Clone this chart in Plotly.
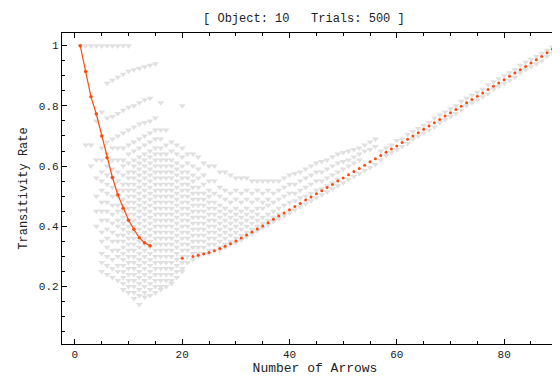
import plotly.graph_objects as go

title_text = "[ Object: 10   Trials: 500 ]"
x_title = "Number of Arrows"
y_title = "Transitivity Rate"

# Orange series (left branch and right branch)
orange_left_x = list(range(1, 15))
orange_left_y = [1.0, 0.914, 0.83, 0.773, 0.70, 0.628, 0.562, 0.505, 0.46, 0.42,
                 0.39, 0.362, 0.345, 0.335]
orange_right_x = [20] + list(range(22, 91))
orange_right_y = [0.294,
                  0.300, 0.304, 0.308, 0.313, 0.319, 0.326, 0.334, 0.342, 0.351, 0.361,
                  0.371, 0.381, 0.391, 0.401, 0.412, 0.423, 0.434, 0.444, 0.455, 0.466,
                  0.476, 0.487, 0.497, 0.508, 0.518, 0.529, 0.539, 0.550, 0.560, 0.571,
                  0.582, 0.592, 0.603, 0.614, 0.624, 0.635, 0.646, 0.657, 0.667, 0.678,
                  0.689, 0.700, 0.711, 0.722, 0.733, 0.744, 0.755, 0.766, 0.777, 0.788,
                  0.799, 0.810, 0.821, 0.832, 0.843, 0.854, 0.865, 0.876, 0.887, 0.898,
                  0.909, 0.920, 0.931, 0.942, 0.953, 0.964, 0.976, 0.988, 1.000]

# Gray trial cloud: one list of observed rates per arrow count
gray_cols = list(range(1, 57))
gray_vals = [
    [1.0],
    [1.0, 0.67],
    [1.0, 0.67, 0.60],
    [1.0, 0.75, 0.62, 0.56, 0.50, 0.45, 0.40],
    [1.0, 0.78, 0.66, 0.62, 0.58, 0.55, 0.52, 0.48, 0.45, 0.42, 0.38, 0.35, 0.31, 0.28, 0.25],
    [1.0, 0.875, 0.76, 0.68, 0.64, 0.60, 0.57, 0.54, 0.51, 0.48, 0.45, 0.42, 0.39, 0.36, 0.33, 0.30, 0.27, 0.24],
    [1.0, 0.885, 0.765, 0.69, 0.66, 0.62, 0.59, 0.56, 0.53, 0.50, 0.47, 0.44, 0.41, 0.38, 0.35, 0.32, 0.29, 0.26, 0.23],
    [1.0, 0.895, 0.775, 0.70, 0.66, 0.62, 0.58, 0.55, 0.52, 0.50, 0.47, 0.45, 0.42, 0.40, 0.37, 0.35, 0.32, 0.30, 0.27, 0.25, 0.22],
    [1.0, 0.905, 0.785, 0.71, 0.66, 0.62, 0.60, 0.57, 0.54, 0.52, 0.49, 0.47, 0.45, 0.43, 0.41, 0.39, 0.37, 0.35, 0.33, 0.31, 0.29, 0.27, 0.25, 0.23, 0.21, 0.19],
    [1.0, 0.915, 0.795, 0.72, 0.67, 0.64, 0.61, 0.58, 0.56, 0.54, 0.52, 0.50, 0.48, 0.46, 0.44, 0.42, 0.40, 0.38, 0.36, 0.34, 0.32, 0.30, 0.28, 0.26, 0.24, 0.22, 0.20, 0.18],
    [0.92, 0.80, 0.73, 0.68, 0.65, 0.62, 0.60, 0.58, 0.56, 0.54, 0.52, 0.50, 0.48, 0.46, 0.44, 0.42, 0.40, 0.38, 0.36, 0.34, 0.32, 0.30, 0.28, 0.26, 0.24, 0.22, 0.20, 0.18, 0.16],
    [0.925, 0.81, 0.74, 0.69, 0.66, 0.63, 0.61, 0.59, 0.57, 0.55, 0.53, 0.51, 0.49, 0.47, 0.45, 0.43, 0.41, 0.39, 0.37, 0.35, 0.33, 0.31, 0.29, 0.27, 0.25, 0.23, 0.21, 0.19, 0.17, 0.14],
    [0.93, 0.82, 0.745, 0.70, 0.67, 0.64, 0.62, 0.60, 0.58, 0.56, 0.54, 0.52, 0.50, 0.48, 0.46, 0.44, 0.42, 0.40, 0.38, 0.36, 0.34, 0.32, 0.30, 0.28, 0.26, 0.24, 0.22, 0.20, 0.18, 0.165],
    [0.935, 0.825, 0.75, 0.71, 0.68, 0.65, 0.63, 0.61, 0.59, 0.57, 0.55, 0.53, 0.51, 0.49, 0.47, 0.45, 0.43, 0.41, 0.39, 0.37, 0.35, 0.33, 0.31, 0.29, 0.27, 0.25, 0.23, 0.21, 0.19, 0.17],
    [0.94, 0.76, 0.72, 0.69, 0.66, 0.64, 0.62, 0.60, 0.58, 0.56, 0.54, 0.52, 0.50, 0.48, 0.46, 0.44, 0.42, 0.40, 0.38, 0.36, 0.34, 0.32, 0.30, 0.28, 0.26, 0.24, 0.22, 0.20, 0.18],
    [0.81, 0.72, 0.69, 0.66, 0.64, 0.62, 0.60, 0.58, 0.56, 0.54, 0.52, 0.50, 0.48, 0.46, 0.44, 0.42, 0.40, 0.38, 0.36, 0.34, 0.32, 0.30, 0.28, 0.26, 0.24, 0.22, 0.20, 0.19],
    [0.72, 0.67, 0.64, 0.62, 0.60, 0.58, 0.56, 0.54, 0.52, 0.50, 0.48, 0.46, 0.44, 0.42, 0.40, 0.38, 0.36, 0.34, 0.32, 0.30, 0.28, 0.26, 0.24, 0.22, 0.20],
    [0.68, 0.65, 0.62, 0.60, 0.58, 0.56, 0.54, 0.52, 0.50, 0.48, 0.46, 0.44, 0.42, 0.40, 0.38, 0.36, 0.34, 0.32, 0.30, 0.28, 0.26, 0.24, 0.22, 0.21],
    [0.67, 0.64, 0.61, 0.59, 0.57, 0.55, 0.53, 0.51, 0.49, 0.47, 0.45, 0.43, 0.41, 0.39, 0.37, 0.35, 0.33, 0.31, 0.29, 0.27, 0.25, 0.23],
    [0.80, 0.66, 0.63, 0.60, 0.58, 0.56, 0.54, 0.52, 0.50, 0.48, 0.46, 0.44, 0.42, 0.40, 0.38, 0.36, 0.34, 0.32, 0.30, 0.28, 0.26, 0.25],
    [0.64, 0.61, 0.58, 0.56, 0.54, 0.52, 0.50, 0.48, 0.46, 0.44, 0.42, 0.40, 0.38, 0.36, 0.34, 0.32, 0.30, 0.28],
    [0.64, 0.60, 0.57, 0.55, 0.53, 0.51, 0.49, 0.47, 0.45, 0.43, 0.41, 0.39, 0.37, 0.35, 0.33, 0.31, 0.29],
    [0.63, 0.59, 0.56, 0.53, 0.51, 0.49, 0.47, 0.45, 0.43, 0.41, 0.39, 0.37, 0.35, 0.33, 0.31, 0.30],
    [0.61, 0.57, 0.54, 0.51, 0.49, 0.47, 0.45, 0.43, 0.41, 0.39, 0.37, 0.35, 0.33, 0.31],
    [0.60, 0.55, 0.52, 0.50, 0.48, 0.46, 0.44, 0.42, 0.40, 0.38, 0.36, 0.34, 0.32, 0.31],
    [0.60, 0.55, 0.51, 0.48, 0.46, 0.44, 0.42, 0.40, 0.38, 0.36, 0.34, 0.32],
    [0.58, 0.53, 0.50, 0.47, 0.45, 0.43, 0.41, 0.39, 0.37, 0.35, 0.33, 0.32],
    [0.58, 0.52, 0.49, 0.46, 0.44, 0.42, 0.40, 0.38, 0.36, 0.34, 0.33],
    [0.57, 0.51, 0.48, 0.45, 0.43, 0.41, 0.39, 0.37, 0.35, 0.34],
    [0.56, 0.52, 0.49, 0.46, 0.44, 0.42, 0.40, 0.38, 0.36, 0.345],
    [0.56, 0.51, 0.48, 0.45, 0.43, 0.41, 0.39, 0.37, 0.355],
    [0.56, 0.52, 0.49, 0.46, 0.44, 0.42, 0.40, 0.38, 0.365],
    [0.55, 0.51, 0.48, 0.45, 0.43, 0.41, 0.39, 0.375],
    [0.55, 0.52, 0.49, 0.46, 0.44, 0.42, 0.40, 0.385],
    [0.55, 0.51, 0.48, 0.46, 0.43, 0.41, 0.395],
    [0.55, 0.52, 0.49, 0.47, 0.44, 0.42, 0.405],
    [0.55, 0.51, 0.48, 0.45, 0.43, 0.415],
    [0.55, 0.52, 0.49, 0.46, 0.44, 0.425],
    [0.56, 0.53, 0.50, 0.47, 0.435],
    [0.57, 0.54, 0.51, 0.48, 0.445],
    [0.575, 0.54, 0.51, 0.485, 0.455],
    [0.58, 0.55, 0.52, 0.495, 0.465],
    [0.59, 0.56, 0.53, 0.50, 0.475],
    [0.60, 0.57, 0.54, 0.51, 0.485],
    [0.61, 0.58, 0.55, 0.52, 0.495],
    [0.615, 0.58, 0.55, 0.525, 0.505],
    [0.62, 0.59, 0.56, 0.535, 0.515],
    [0.63, 0.60, 0.57, 0.545, 0.525],
    [0.64, 0.61, 0.58, 0.555, 0.535],
    [0.645, 0.615, 0.59, 0.545],
    [0.65, 0.62, 0.60, 0.555],
    [0.655, 0.63, 0.61, 0.565],
    [0.66, 0.64, 0.62, 0.575],
    [0.67, 0.65, 0.585],
    [0.68, 0.655, 0.595],
    [0.69, 0.665, 0.605],
]
# Gray trials hugging the orange curve at high arrow counts
gray_tail_x = list(range(57, 90))
gray_tail_hi = [0.65, 0.66, 0.67, 0.685, 0.69, 0.705, 0.715, 0.725, 0.735, 0.745, 0.76,
                0.77, 0.78, 0.79, 0.80, 0.815, 0.825, 0.835, 0.845, 0.855, 0.87, 0.88,
                0.89, 0.90, 0.91, 0.92, 0.935, 0.945, 0.955, 0.965, 0.975, 0.985, 0.995]
gray_tail_lo = [0.62, 0.635, 0.645, 0.655, 0.665, 0.675, 0.69, 0.70, 0.71, 0.72, 0.73,
                0.745, 0.755, 0.765, 0.775, 0.785, 0.80, 0.81, 0.82, 0.83, 0.84, 0.855,
                0.865, 0.875, 0.885, 0.895, 0.91, 0.92, 0.93, 0.94, 0.95, 0.965, 0.975]

gx, gy = [], []
for c, vals in zip(gray_cols, gray_vals):
    for v in vals:
        gx.append(c)
        gy.append(v)
for c, hi, lo in zip(gray_tail_x, gray_tail_hi, gray_tail_lo):
    gx += [c, c]
    gy += [hi, lo]

GRAY = "#E0E0E0"
ORANGE = "#FF4A0F"
FONT = "Liberation Mono, DejaVu Sans Mono, monospace"

fig = go.Figure()
fig.add_trace(go.Scatter(x=gx, y=gy, mode="markers",
                         marker=dict(symbol="triangle-down", size=6, color=GRAY),
                         hoverinfo="skip", showlegend=False))
fig.add_trace(go.Scatter(x=orange_left_x, y=orange_left_y, mode="lines+markers",
                         line=dict(color=ORANGE, width=1.2),
                         marker=dict(symbol="circle", size=3.5, color=ORANGE),
                         showlegend=False))
fig.add_trace(go.Scatter(x=orange_right_x, y=orange_right_y, mode="markers",
                         marker=dict(symbol="circle", size=3, color=ORANGE),
                         showlegend=False))

fig.update_layout(
    width=560, height=380,
    margin=dict(l=54, r=0, t=25, b=44),
    paper_bgcolor="white", plot_bgcolor="white",
    font=dict(family=FONT, size=11, color="#222222"),
    title=dict(text=title_text, x=0.478, xref="paper", xanchor="center",
               y=0.985, yref="container", yanchor="top",
               font=dict(family=FONT, size=12, color="#222222")),
)
fig.update_xaxes(
    range=[-2.4, 91.9], showgrid=False, zeroline=False, automargin=False,
    showline=True, linecolor="black", linewidth=1.3, mirror="ticks",
    ticks="inside", ticklen=5, tickcolor="black", tickwidth=1,
    tick0=0, dtick=20,
    minor=dict(ticks="inside", ticklen=3, dtick=5, tickcolor="black", showgrid=False),
    title=dict(text=x_title, standoff=1, font=dict(family=FONT, size=13)),
    tickfont=dict(family=FONT, size=11),
)
fig.update_yaxes(
    range=[0.009, 1.042], showgrid=False, zeroline=False, automargin=False,
    showline=True, linecolor="black", linewidth=1.3, mirror=False,
    ticks="inside", ticklen=5, tickcolor="black", tickwidth=1,
    tick0=0, dtick=0.2,
    minor=dict(ticks="inside", ticklen=3, dtick=0.05, tickcolor="black", showgrid=False),
    title=dict(text=y_title, standoff=8, font=dict(family=FONT, size=12)),
    tickfont=dict(family=FONT, size=11),
)

fig.write_html("out.html")
